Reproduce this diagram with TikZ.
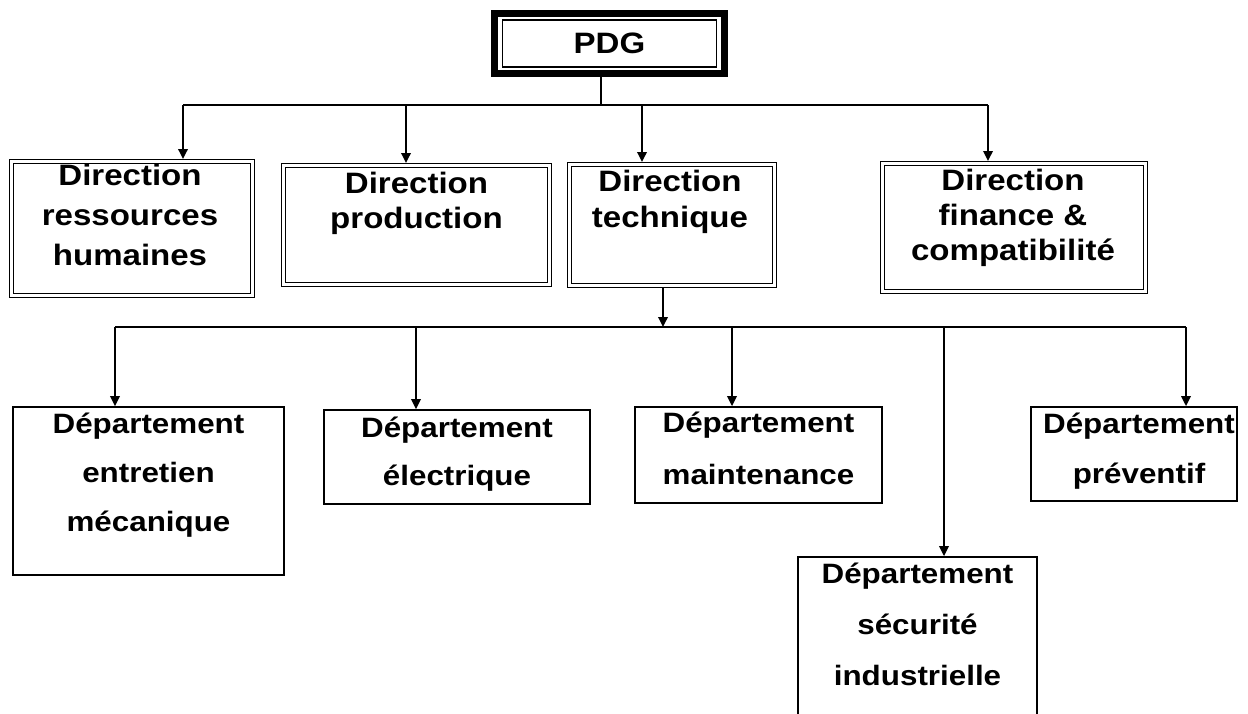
\documentclass[tikz,border=0pt]{standalone}
\usepackage{fontspec}
\newfontfamily\arialb{Liberation Sans}[FakeStretch=1.12]
\usetikzlibrary{arrows.meta}
\begin{document}
\begin{tikzpicture}[x=1pt,y=-1pt,
  dbox/.style={draw, double, line width=1.3pt, double distance=2.4pt, inner sep=0pt, outer sep=2.5pt},
  sbox/.style={draw, line width=1.8pt, inner sep=0pt, outer sep=0.9pt},
  lbl/.style={anchor=north, inner sep=0pt, align=center, text=black},
  dirf/.style={font=\arialb\bfseries\fontsize{29.5}{#1}\selectfont},
  depf/.style={font=\arialb\bfseries\fontsize{28}{#1}\selectfont},
  conn/.style={line width=1.8pt},
  arr/.style={conn, -{Triangle[width=9.5pt,length=10pt]}}]
\clip (0,0) rectangle (1248,713);
\fill[white] (0,0) rectangle (1248,713);
% PDG
\node[draw, line width=6.5pt, minimum width=230pt, minimum height=60pt, inner sep=0pt] (pdg) at (609.5,43.5) {};
\node[draw, line width=1.5pt, minimum width=214pt, minimum height=47pt, inner sep=0pt] (pdgin) at (609.5,43.5) {};
\node[anchor=base, inner sep=0pt, dirf=34] (pdgt) at (609.5,53) {PDG};
% directions
\node[dbox, minimum width=241pt, minimum height=134pt] (rh) at (132,228.5) {};
\node[dbox, minimum width=266pt, minimum height=119pt] (prod) at (416.5,225) {};
\node[dbox, minimum width=205pt, minimum height=121pt] (tech) at (672,225) {};
\node[dbox, minimum width=263pt, minimum height=128pt] (fin) at (1014,227.5) {};
\node[lbl, dirf=40] (rht) at (130,163) {\rule{0pt}{22pt}Direction\\ressources\\humaines};
\node[lbl, dirf=35] (prodt) at (416.5,171) {\rule{0pt}{22pt}Direction\\production};
\node[lbl, dirf=36] (techt) at (670,169) {\rule{0pt}{22pt}Direction\\technique};
\node[lbl, dirf=35] (fint) at (1013,168) {\rule{0pt}{22pt}Direction\\finance \&\\compatibilité};
% departments
\node[sbox, minimum width=271pt, minimum height=168pt] (ent) at (148.5,491) {};
\node[sbox, minimum width=266pt, minimum height=94pt] (ele) at (457,457) {};
\node[sbox, minimum width=247pt, minimum height=96pt] (mai) at (758.5,455) {};
\node[sbox, minimum width=206pt, minimum height=94pt] (pre) at (1134,454) {};
\node[sbox, minimum width=239pt, minimum height=202pt] (sec) at (917.5,658) {};
\node[lbl, depf=49] (entt) at (148.5,411) {\rule{0pt}{22pt}Département\\entretien\\mécanique};
\node[lbl, depf=48] (elet) at (457,415) {\rule{0pt}{22pt}Département\\électrique};
\node[lbl, depf=52] (mait) at (758.5,410) {\rule{0pt}{22pt}Département\\maintenance};
\node[lbl, depf=50] (pret) at (1139,411) {\rule{0pt}{22pt}Département\\préventif};
\node[lbl, depf=51] (sect) at (917.5,561) {\rule{0pt}{22pt}Département\\sécurité\\industrielle};
% connectors level 1
\coordinate (j0) at (600.7,105);
\coordinate (b1l) at (183,105);
\coordinate (b1p) at (406,105);
\coordinate (b1t) at (642,105);
\coordinate (b1r) at (988,105);
\draw[conn] (pdg.south -| j0) -- (j0);
\draw[conn] (b1l) -- (b1r);
\draw[arr] (b1l) -- (b1l |- rh.north);
\draw[arr] (b1p) -- (b1p |- prod.north);
\draw[arr] (b1t) -- (b1t |- tech.north);
\draw[arr] (b1r) -- (b1r |- fin.north);
% connectors level 2
\coordinate (t2) at (663,327);
\coordinate (b2l) at (115,327);
\coordinate (b2e) at (416,327);
\coordinate (b2m) at (732,327);
\coordinate (b2s) at (944,327);
\coordinate (b2r) at (1186,327);
\draw[arr] (t2 |- tech.south) -- (t2);
\draw[conn] (b2l) -- (b2r);
\draw[arr] (b2l) -- (b2l |- ent.north);
\draw[arr] (b2e) -- (b2e |- ele.north);
\draw[arr] (b2m) -- (b2m |- mai.north);
\draw[arr] (b2s) -- (b2s |- sec.north);
\draw[arr] (b2r) -- (b2r |- pre.north);
\end{tikzpicture}
\end{document}
